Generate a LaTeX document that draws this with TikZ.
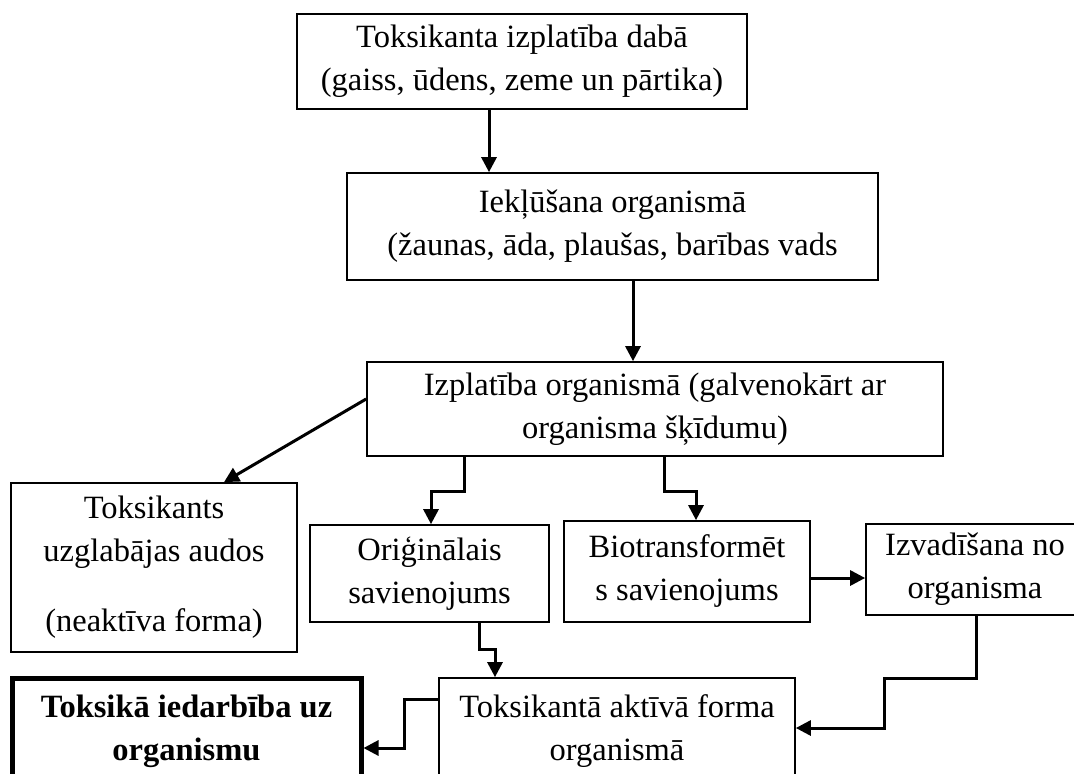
\documentclass[tikz,border=0pt]{standalone}
\usepackage{fontspec}
\setmainfont{Liberation Serif}
\usetikzlibrary{arrows.meta}
\begin{document}
\begin{tikzpicture}[x=1pt,y=-1pt,
  box/.style={draw,line width=1.7pt,inner sep=0pt,align=center,font=\fontsize{32.5}{43}\selectfont},
  thickbox/.style={box,line width=5pt,font=\fontsize{32.5}{43}\selectfont\bfseries},
  arr/.style={line width=3pt,-{Triangle[length=15pt,width=15pt]}}]
\useasboundingbox (0,0) rectangle (1074,774);
\clip (0,0) rectangle (1074,774);
\node[box,minimum width=450pt,minimum height=95pt] (b1) at (522,61.5)
  {Toksikanta izplatība dabā\\(gaiss, ūdens, zeme un pārtika)};
\node[box,minimum width=531pt,minimum height=107pt] (b2) at (612.5,226.5)
  {Iekļūšana organismā\\(žaunas, āda, plaušas, barības vads};
\node[box,minimum width=576pt,minimum height=94pt] (b3) at (655,409)
  {Izplatība organismā (galvenokārt ar\\organisma šķīdumu)};
\node[box,minimum width=286pt,minimum height=169pt] (b4) at (154,567.5)
  {Toksikants\\uzglabājas audos\\[27pt](neaktīva forma)};
\node[box,minimum width=239pt,minimum height=97pt] (b5) at (429.5,573.5)
  {Oriģinālais\\savienojums};
\node[box,minimum width=246pt,minimum height=101pt] (b6) at (687,571.5)
  {Biotransformēt\\s savienojums};
\node[box,minimum width=218pt,minimum height=91pt] (b7) at (975,569.5)
  {Izvadīšana no\\organisma};
\node[box,minimum width=356pt,minimum height=106pt] (b8) at (617,731)
  {Toksikantā aktīvā forma\\organismā};
\node[thickbox,minimum width=349pt,minimum height=106pt] (b9) at (186.5,731)
  {Toksikā iedarbība uz\\organismu};
\draw[arr] (489,0 |- b1.south) -- (489,0 |- b2.north);
\draw[arr] (633,0 |- b2.south) -- (633,0 |- b3.north);
\draw[arr] (b3.west |- 0,399) -- (224,0 |- b4.north);
\draw[arr] (464,0 |- b3.south) -- (464,491) -- (431,491) -- (431,0 |- b5.north);
\draw[arr] (664,0 |- b3.south) -- (664,491) -- (696,491) -- (696,0 |- b6.north);
\draw[arr] (b6.east |- 0,578) -- (b7.west |- 0,578);
\draw[arr] (479,0 |- b5.south) -- (479,649) -- (495,649) -- (495,0 |- b8.north);
\draw[arr] (976,0 |- b7.south) -- (976,678) -- (884,678) -- (884,728) -- (b8.east |- 0,728);
\draw[arr] (b8.west |- 0,699) -- (404,699) -- (404,748) -- (b9.east |- 0,748);
\end{tikzpicture}
\end{document}
